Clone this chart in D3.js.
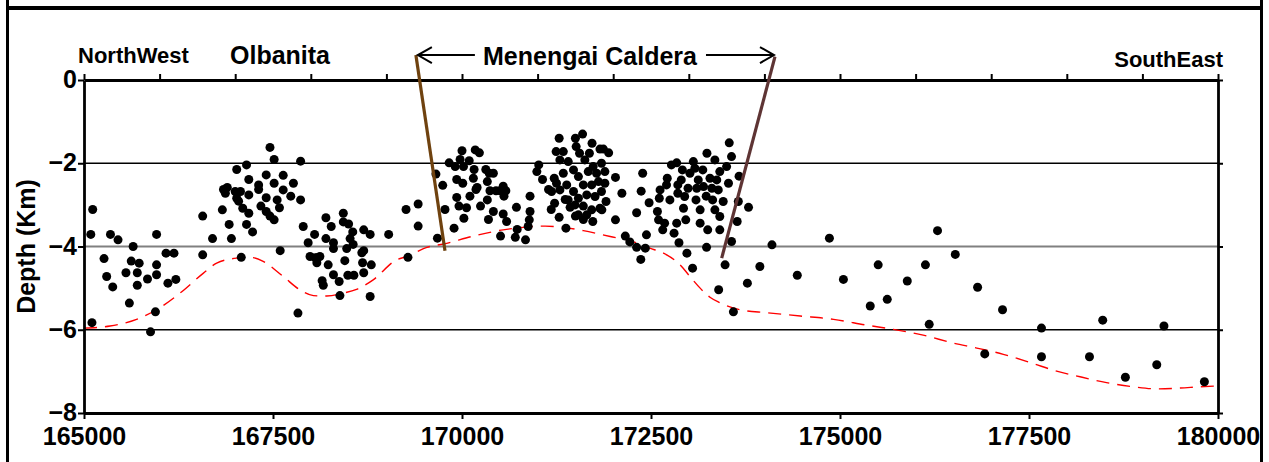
<!DOCTYPE html>
<html>
<head>
<meta charset="utf-8">
<script src="https://cdn.jsdelivr.net/npm/d3@7"></script>
<style>
  body { margin: 0; background: #fff; }
  svg { display: block; font-family: "Liberation Sans", Arial, sans-serif; font-weight: bold; }
</style>
</head>
<body>
<div id="viz-chart"></div>
<script>
// earthquake hypocentres, [easting, depth km]
const northWestPts = [
  [165115,-3.11],[165090,-3.71],[165105,-5.83],[165265,-4.29],[165300,-4.72],[165350,-3.71],[165380,-4.97],
  [165450,-3.84],[165555,-4.63],[165600,-5.36],[165625,-4.35],[165650,-4.00],[165705,-4.63],[165730,-4.40],
  [165705,-4.93],[165840,-4.78],[165880,-6.05],[165945,-5.57],[165960,-4.44],[165960,-4.68],[165960,-3.71],
  [166085,-4.16],[166110,-4.88],[166190,-4.16],[166215,-4.79]
];
const olbanitaPts = [
  [166570,-3.27],[166570,-4.20],[166700,-3.81],[166830,-3.12],[166845,-2.63],[166870,-2.72],[166895,-2.58],
  [166920,-3.47],[166950,-3.81],[167020,-2.15],[167000,-2.68],[167020,-2.84],[167070,-2.68],[167045,-2.91],
  [167100,-3.08],[167150,-2.04],[167180,-2.39],[167180,-2.76],[167180,-3.20],[167150,-3.47],[167230,-3.65],
  [167080,-4.26],[167310,-2.52],[167310,-2.63],[167340,-3.03],[167410,-2.28],[167410,-2.83],[167410,-3.16],
  [167460,-1.62],[167515,-1.91],[167515,-2.48],[167460,-3.27],[167515,-3.36],[167555,-2.88],[167585,-3.07],
  [167635,-2.29],[167635,-2.64],[167735,-2.79],[167770,-2.48],[167595,-4.10],[167865,-1.95],[167865,-2.88],
  [167900,-3.52],[167830,-5.60]
];
const olbanitaEastPts = [
  [167965,-3.91],[167990,-4.24],[168050,-3.71],[168060,-4.27],[168085,-4.27],[168080,-4.39],[168120,-4.24],
  [168150,-4.82],[168165,-4.93],[168200,-3.31],[168200,-3.81],[168230,-4.44],[168270,-3.52],[168300,-3.91],
  [168300,-4.05],[168300,-4.68],[168375,-4.84],[168385,-5.18],[168430,-3.20],[168430,-3.41],[168450,-4.34],
  [168475,-4.05],[168490,-4.69],[168500,-3.46],[168520,-3.81],[168555,-3.65],[168560,-3.95],[168570,-4.69],
  [168675,-4.15],[168685,-4.39],[168700,-3.60],[168700,-4.10],[168700,-4.63],[168785,-3.71],[168785,-5.20],
  [168800,-4.44],[169030,-3.71]
];
const calderaWestPts = [
  [169260,-3.11],[169420,-2.98],[169420,-3.51],[169285,-4.26],[169655,-2.26],[169745,-2.53],[169675,-3.80],
  [169775,-3.11],[169830,-1.99],[169895,-3.56],[169910,-2.08],[169930,-2.39],[169930,-2.82],[169960,-3.03],
  [169975,-1.91],[170000,-1.70],[170010,-2.48],[170020,-2.08],[170025,-3.32],[170060,-3.07],[170095,-1.94],
  [170105,-2.79],[170150,-2.36],[170160,-2.15],[170175,-1.68],[170185,-2.63],[170230,-1.75],[170200,-2.58],
  [170245,-3.03],[170315,-2.15],[170335,-2.44],[170335,-2.88],[170360,-2.24],[170370,-2.66],[170415,-2.24],
  [170350,-3.35],[170415,-3.16],[170450,-2.66],[170505,-2.66],[170545,-2.55],[170555,-2.79],[170580,-2.66],
  [170545,-3.22],[170590,-3.40],[170510,-3.75],[170720,-3.06],[170730,-3.59],[170705,-3.78],[170840,-3.84],
  [170900,-2.79],[170900,-3.16],[170890,-3.36],[170875,-3.52]
];
const calderaCentrePts = [
  [171015,-2.04],[170990,-2.20],[171065,-2.39],[171145,-2.63],[171180,-3.11],[171225,-2.96],[171285,-1.40],
  [171245,-1.72],[171285,-3.30],[171375,-3.56],[171340,-1.72],[171500,-1.40],[171595,-1.30],[171720,-1.52],
  [171870,-1.66],[171940,-1.75],[172030,-2.34],[172115,-2.72],[172030,-3.36],[172160,-3.75],[171500,-3.27],
  [171605,-3.35],[171730,-3.40],[171850,-3.12],[171510,-1.60],[171555,-1.76],[171685,-1.76],[171825,-1.66],
  [171295,-1.92],[171405,-1.96],[171625,-1.92],[171735,-2.08],[171845,-2.00],[171220,-2.36],[171340,-2.24],
  [171475,-2.16],[171540,-2.32],[171670,-2.20],[171780,-2.24],[171890,-2.20],[171250,-2.48],[171385,-2.52],
  [171475,-2.68],[171605,-2.52],[171715,-2.52],[171805,-2.44],[171890,-2.48],[171185,-2.68],[171295,-2.64],
  [171405,-2.88],[171540,-2.84],[171650,-2.76],[171760,-2.80],[171845,-2.68],[171365,-2.87],[171495,-3.00],
  [171605,-3.03],[171715,-3.12],[171825,-3.08],[171905,-2.92],[171430,-3.06],[171540,-3.24],[171650,-3.24],
  [172310,-3.19]
];
const calderaEastPts = [
  [172220,-3.89],[172310,-4.02],[172425,-4.04],[172365,-4.31],[172390,-2.24],[172370,-2.67],[172475,-2.95],
  [172440,-3.72],[172620,-2.64],[172610,-2.84],[172585,-3.16],[172600,-3.36],[172655,-3.60],[172680,-3.44],
  [172715,-2.36],[172705,-2.52],[172750,-2.88],[172770,-2.04],[172840,-1.99],[172805,-3.68],[172840,-3.44],
  [172870,-3.91],[172855,-2.52],[172855,-2.72],[172900,-2.40],[172915,-2.16],[172930,-3.08],[172945,-2.80],
  [172960,-3.36],[172990,-2.60],[173015,-2.24],[172975,-4.16],[173060,-1.96],[173080,-2.12],[173095,-2.88],
  [173105,-2.60],[173125,-2.40],[173150,-3.12],[173150,-3.44],[173185,-2.16],[173195,-2.56],[173230,-2.79],
  [173240,-1.76],[173250,-3.60],[173280,-2.36],[173305,-2.60],[173315,-2.88],[173345,-1.92],[173345,-3.12],
  [173370,-2.40],[173390,-2.64],[173410,-2.20],[173410,-3.28],[173410,-3.60],[173455,-2.92],[173500,-2.08],
  [173525,-2.48],[173535,-1.51],[173565,-1.84],[173665,-2.31],[173655,-2.92],[173640,-3.40],[173565,-3.88],
  [173235,-4.02],[173480,-4.44],[173790,-3.06],[173940,-4.48],[173050,-4.52]
];
const southEastPts = [
  [173395,-5.04],[173590,-5.57],[173775,-4.88],[174100,-3.96],[174435,-4.69],[174860,-3.80],[175045,-4.79],
  [175505,-4.44],[175400,-5.43],[175625,-5.27],[175890,-4.83],[176130,-4.44],[176180,-5.87],[176290,-3.62],
  [176525,-4.19],[176820,-4.98],[176915,-6.58],[177150,-5.52],[177665,-5.96],[177665,-6.65],[178300,-6.65],
  [178475,-5.77],[178775,-7.14],[179190,-6.84],[179285,-5.91],[179820,-7.25]
];

// red dashed boundary under the seismicity
const seismicBase = [
  [165000,-5.96],[165345,-5.91],[165695,-5.75],[165960,-5.52],[166270,-5.12],[166580,-4.64],[166755,-4.40],
  [167020,-4.28],[167195,-4.26],[167370,-4.36],[167635,-4.72],[167855,-5.04],[168035,-5.18],[168210,-5.19],
  [168430,-5.12],[168605,-5.03],[168825,-4.80],[169135,-4.32],[169270,-4.24],[169535,-4.02],[169755,-3.94],
  [170150,-3.75],[170545,-3.60],[170810,-3.54],[171100,-3.51],[171340,-3.54],[171605,-3.62],[171960,-3.76],
  [172220,-3.86],[172485,-4.04],[172665,-4.16],[172885,-4.44],[173015,-4.72],[173150,-5.00],[173280,-5.22],
  [173410,-5.35],[173680,-5.52],[174030,-5.59],[174475,-5.67],[174915,-5.75],[175355,-5.89],[175705,-5.99],
  [176100,-6.13],[176500,-6.32],[176810,-6.44],[177160,-6.59],[177555,-6.81],[177820,-6.97],[178175,-7.13],
  [178525,-7.27],[178880,-7.37],[179190,-7.42],[179500,-7.40],[179760,-7.37],[180000,-7.35]
];

// caldera boundary faults (top, bottom)
const westFault = [[169390,0.60],[169775,-4.10]];
const eastFault = [[174140,0.56],[173435,-4.28]];

const xLabelTicks = [165000,167500,170000,172500,175000,177500,180000];
const xTopTicks = [165000,166000,167000,168000,169000,170000,171000,172000,173000,174000,175000,176000,177000,178000,179000,180000];
const yTicks = [0,-2,-4,-6,-8];
const gridDepths = [-2,-4,-6];

const allPts = [].concat(northWestPts, olbanitaPts, olbanitaEastPts, calderaWestPts,
  calderaCentrePts, calderaEastPts, southEastPts);

const width = 1269, height = 462;
const margin = { top: 80, right: 51, bottom: 49, left: 84 };

const svg = d3.select("#viz-chart")
  .append("svg")
  .attr("width", width)
  .attr("height", height);

// outer frame
svg.append("line").attr("x1", 7.5).attr("x2", 7.5).attr("y1", 0).attr("y2", height)
  .attr("stroke", "#000").attr("stroke-width", 3);
svg.append("line").attr("x1", 1261.5).attr("x2", 1261.5).attr("y1", 0).attr("y2", height)
  .attr("stroke", "#000").attr("stroke-width", 3);
svg.append("line").attr("x1", 6).attr("x2", 1263).attr("y1", 8).attr("y2", 8)
  .attr("stroke", "#000").attr("stroke-width", 4);

const x = d3.scaleLinear()
  .domain([165000, 180000])
  .range([margin.left, width - margin.right]);
const y = d3.scaleLinear()
  .domain([0, -8])
  .range([margin.top, height - margin.bottom]);

// grid lines
svg.selectAll("line.grid")
  .data(gridDepths)
  .enter()
  .append("line")
  .classed("grid", true)
  .attr("x1", x(165000))
  .attr("x2", x(180000))
  .attr("y1", (d) => y(d))
  .attr("y2", (d) => y(d))
  .attr("stroke", (d) => (d === -4 ? "#808080" : "#000"))
  .attr("stroke-width", (d) => (d === -4 ? 2 : 1.4));

// red dashed line
svg.append("path")
  .datum(seismicBase)
  .attr("fill", "none")
  .attr("stroke", "#ff0000")
  .attr("stroke-width", 1.4)
  .attr("stroke-dasharray", "13,8")
  .attr("d", d3.line().x((d) => x(d[0])).y((d) => y(d[1])).curve(d3.curveMonotoneX));

// hypocentres
svg.selectAll("circle")
  .data(allPts)
  .enter()
  .append("circle")
  .attr("cx", (d) => x(d[0]))
  .attr("cy", (d) => y(d[1]))
  .attr("r", 4.5)
  .style("fill", "#000");

// axes
const styleAxis = (g) => {
  g.select(".domain").attr("stroke-width", 2.8);
  g.selectAll(".tick line").attr("stroke-width", 2);
  g.selectAll("text").attr("fill", "#000").style("font-size", "24px").style("font-weight", "bold")
    .style("font-family", '"Liberation Sans", Arial, sans-serif');
};

svg.append("g")
  .attr("transform", `translate(0,${y(-8)})`)
  .call(d3.axisBottom(x).tickValues(xLabelTicks).tickSize(6).tickSizeOuter(0).tickPadding(8).tickFormat(d3.format("d")))
  .call(styleAxis)
  .selectAll("text").style("font-size", "25px");

svg.append("g")
  .attr("transform", `translate(0,${y(0)})`)
  .call(d3.axisTop(x).tickValues(xTopTicks).tickSize(6).tickSizeOuter(0).tickFormat(""))
  .call(styleAxis);

svg.append("g")
  .attr("transform", `translate(${x(165000)},0)`)
  .call(d3.axisLeft(y).tickValues(yTicks).tickSize(6).tickSizeOuter(0).tickPadding(1).tickFormat(d3.format("d")))
  .call(styleAxis)
  .selectAll("text").attr("dy", "0.3em").style("font-size", "25px");

svg.append("g")
  .attr("transform", `translate(${x(180000)},0)`)
  .call(d3.axisRight(y).tickValues(yTicks).tickSize(5).tickSizeOuter(0).tickFormat(""))
  .call(styleAxis);

// faults
const faults = [
  { pts: westFault, color: "#6f420f" },
  { pts: eastFault, color: "#5e3434" }
];
svg.selectAll("line.fault")
  .data(faults)
  .enter()
  .append("line")
  .classed("fault", true)
  .attr("x1", (d) => x(d.pts[0][0]))
  .attr("y1", (d) => y(d.pts[0][1]))
  .attr("x2", (d) => x(d.pts[1][0]))
  .attr("y2", (d) => y(d.pts[1][1]))
  .attr("stroke", (d) => d.color)
  .attr("stroke-width", 3.2);

// caldera arrows
const arrowY = y(0.6);
const lx = x(westFault[0][0]) + 2, rx = x(eastFault[0][0]) - 1;
svg.append("line").attr("x1", lx).attr("x2", lx + 57).attr("y1", arrowY).attr("y2", arrowY)
  .attr("stroke", "#000").attr("stroke-width", 2);
svg.append("polyline")
  .attr("points", `${lx + 14},${arrowY - 8} ${lx},${arrowY} ${lx + 14},${arrowY + 8}`)
  .attr("fill", "none").attr("stroke", "#000").attr("stroke-width", 2);
svg.append("line").attr("x1", rx - 68).attr("x2", rx).attr("y1", arrowY).attr("y2", arrowY)
  .attr("stroke", "#000").attr("stroke-width", 2);
svg.append("polyline")
  .attr("points", `${rx - 14},${arrowY - 8} ${rx},${arrowY} ${rx - 14},${arrowY + 8}`)
  .attr("fill", "none").attr("stroke", "#000").attr("stroke-width", 2);

// labels
svg.append("text").text("NorthWest")
  .attr("x", 78).attr("y", 63).style("font-size", "22px");
svg.append("text").text("Olbanita")
  .attr("x", 280).attr("y", 64).attr("text-anchor", "middle").style("font-size", "25px");
svg.append("text").text("Menengai Caldera")
  .attr("x", 590).attr("y", 65).attr("text-anchor", "middle").style("font-size", "25px");
svg.append("text").text("SouthEast")
  .attr("x", 1223).attr("y", 67).attr("text-anchor", "end").style("font-size", "22px");
svg.append("text").text("Depth (Km)")
  .attr("transform", `translate(35,${(y(0) + y(-8)) / 2}) rotate(-90)`)
  .attr("text-anchor", "middle").style("font-size", "25px");
</script>
</body>
</html>
